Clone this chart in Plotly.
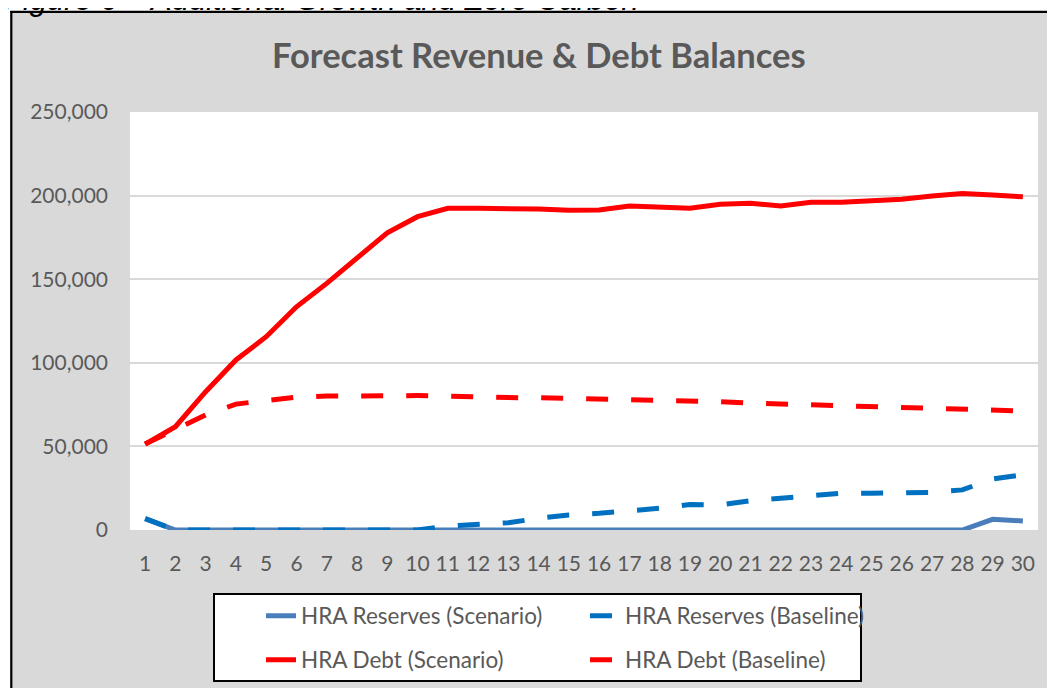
import plotly.graph_objects as go

years = list(range(1, 31))
tick_labels = [str(y) for y in years]

reserves_scenario = [6800] + [0] * 27 + [6400, 5400]
reserves_baseline = [6800, 0, 0, 0, 0, 0, 0, 0, 0, 0,
                     2400, 3600, 4300, 7000, 9000, 10000, 11400, 13000, 15200, 15000,
                     17500, 19000, 20000, 22000, 22000, 22500, 22500, 24000, 30500, 33000]
debt_scenario = [51400, 61800, 82700, 101700, 115600, 133500, 147500, 162400, 177800, 187400,
                 192400, 192400, 192400, 192000, 191300, 191400, 193800, 193000, 192400, 194800,
                 195400, 193800, 196000, 196000, 196700, 197800, 199700, 201300, 200300, 199300]
debt_baseline = [51400, 59800, 68800, 75300, 77100, 79500, 80100, 80400, 80400, 80400,
                 80100, 79500, 79200, 79100, 78800, 78500, 78300, 77700, 77100, 76700,
                 75900, 75300, 74900, 74300, 73900, 73300, 72800, 72400, 71600, 71200]

series_names = ["HRA Reserves (Scenario)", "HRA Reserves (Baseline)",
                "HRA Debt (Scenario)", "HRA Debt (Baseline)"]

title_text = "Forecast Revenue & Debt Balances"
caption_text = "Figure 6 \u2013 Additional Growth and Zero Carbon"

FONT = "Lato, 'Open Sans', sans-serif"
GREY_TXT = "#595959"
BG = "#d9d9d9"

# the page body has an 8px margin; work in screen pixels and convert
OFF = 8
W, H = 1055 - OFF, 688 - OFF
PL, PR, PT, PB = 130, 1038, 112, 530          # plot area in screen pixels
L, R, T, B = PL - OFF, W - (PR - OFF), PT - OFF, H - (PB - OFF)
PW, PH = W - L - R, H - T - B


def px(x):
    return (x - PL) / PW


def py(y):
    return (PB - y) / PH


fig = go.Figure()
fig.add_trace(go.Scatter(x=years, y=reserves_scenario, name=series_names[0], mode="lines",
                         line=dict(color="#4a7ebb", width=5), legend="legend"))
fig.add_trace(go.Scatter(x=years, y=reserves_baseline, name=series_names[1], mode="lines",
                         line=dict(color="#0070c0", width=5, dash="22px,23px"), legend="legend"))
fig.add_trace(go.Scatter(x=years, y=debt_scenario, name=series_names[2], mode="lines",
                         line=dict(color="#ff0000", width=5), legend="legend2"))
fig.add_trace(go.Scatter(x=years, y=debt_baseline, name=series_names[3], mode="lines",
                         line=dict(color="#ff0000", width=5, dash="22px,23px"), legend="legend2"))

shapes = [
    # white outside the chart frame
    dict(type="rect", xref="paper", yref="paper", x0=-0.3, x1=1.2, y0=py(11), y1=1.5,
         fillcolor="white", line=dict(width=0), layer="below"),
    dict(type="rect", xref="paper", yref="paper", x0=-0.3, x1=px(10.5), y0=-0.6, y1=1.5,
         fillcolor="white", line=dict(width=0), layer="below"),
    # frame border
    dict(type="line", xref="paper", yref="paper", x0=px(11.3), x1=px(11.3), y0=py(11), y1=py(700),
         line=dict(color="black", width=2.2)),
    dict(type="line", xref="paper", yref="paper", x0=px(10.3), x1=px(1070), y0=py(11.8), y1=py(11.8),
         line=dict(color="black", width=2.2)),
    # legend box
    dict(type="rect", xref="paper", yref="paper", x0=px(214), x1=px(861), y0=py(681), y1=py(594),
         fillcolor="white", line=dict(color="black", width=2)),
]

annotations = [
    dict(text="<b>" + title_text + "</b>", xref="paper", yref="paper", x=px(539), y=py(55),
         xanchor="center", yanchor="middle", showarrow=False,
         font=dict(family=FONT, size=34.5, color=GREY_TXT)),
    dict(text="<i>" + caption_text + "</i>", xref="paper", yref="paper", x=px(2), y=py(19),
         xanchor="left", yanchor="bottom", showarrow=False,
         font=dict(family="Arial, 'Liberation Sans', sans-serif", size=31, color="black")),
]

legend_common = dict(orientation="h", bgcolor="rgba(0,0,0,0)", borderwidth=0,
                     font=dict(family=FONT, size=22.5, color=GREY_TXT),
                     xanchor="left", yanchor="middle", entrywidth=279, itemwidth=30,
                     traceorder="normal")

fig.update_layout(
    width=W, height=H,
    margin=dict(l=L, r=R, t=T, b=B, pad=0, autoexpand=False),
    paper_bgcolor=BG, plot_bgcolor="white",
    showlegend=True,
    legend=dict(x=px(261), y=py(616), **legend_common),
    legend2=dict(x=px(261), y=py(660), **legend_common),
    shapes=shapes,
    annotations=annotations,
    xaxis=dict(range=[0.5, 30.5], tickmode="array", tickvals=years, ticktext=tick_labels,
               showgrid=False, zeroline=False, showline=False, ticks="",
               tickfont=dict(family=FONT, size=21, color=GREY_TXT), ticklabelstandoff=19,
               fixedrange=True),
    yaxis=dict(range=[0, 250000], dtick=50000, tickformat=",d", showgrid=True,
               gridcolor="#d9d9d9", gridwidth=1.5, zeroline=False, showline=False, ticks="",
               tickfont=dict(family=FONT, size=21, color=GREY_TXT), ticklabelstandoff=21,
               fixedrange=True),
)

fig.write_html("out.html")
